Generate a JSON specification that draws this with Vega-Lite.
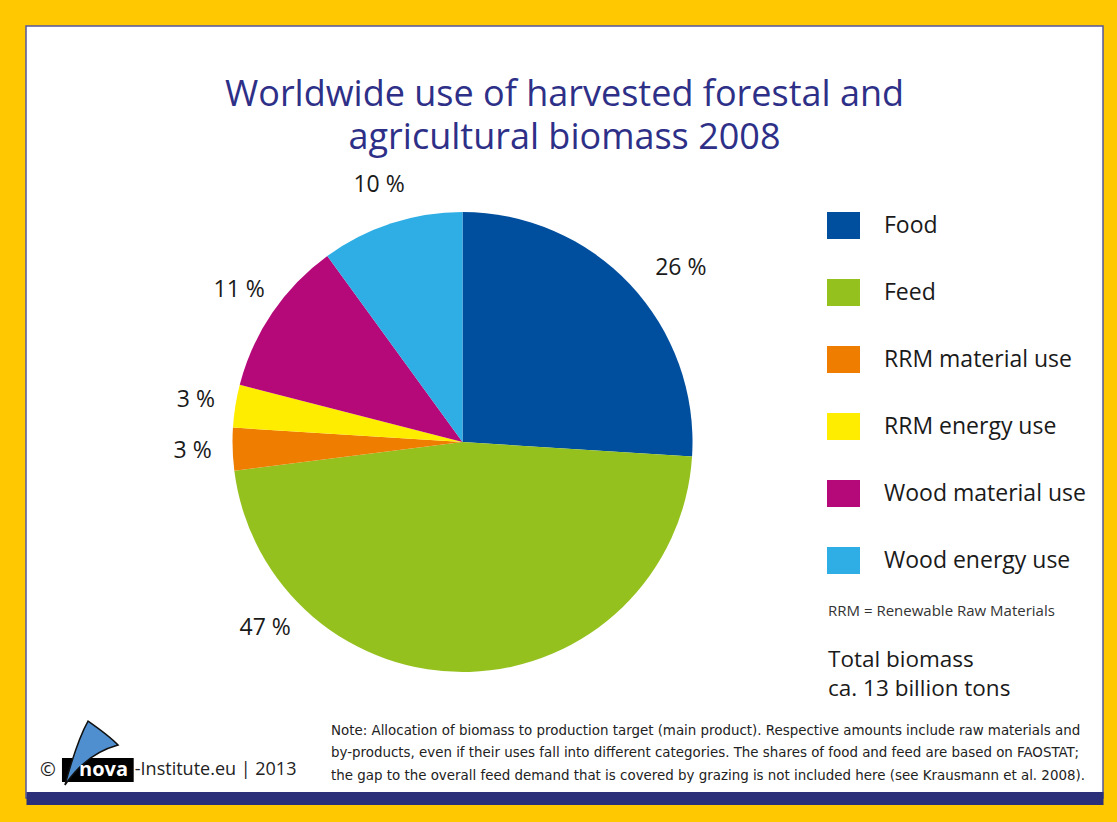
{
  "$schema": "https://vega.github.io/schema/vega-lite/v6.json",
  "width": 1077,
  "height": 772,
  "autosize": {"type": "none"},
  "padding": {"left": 26, "top": 26, "right": 14, "bottom": 24},
  "background": "#ffc800",
  "title": {
    "text": ["Worldwide use of harvested forestal and", "agricultural biomass 2008"],
    "anchor": "middle",
    "frame": "group",
    "offset": -131,
    "fontSize": 36,
    "font": "Open Sans",
    "fontWeight": "normal",
    "color": "#2e3088",
    "lineHeight": 43
  },
  "data": {
    "values": [
      {"use": "Food", "share": 26, "rank": 1, "label": "26 %"},
      {"use": "Feed", "share": 47, "rank": 2, "label": "47 %"},
      {"use": "RRM material use", "share": 3, "rank": 3, "label": "3 %"},
      {"use": "RRM energy use", "share": 3, "rank": 4, "label": "3 %"},
      {"use": "Wood material use", "share": 11, "rank": 5, "label": "11 %"},
      {"use": "Wood energy use", "share": 10, "rank": 6, "label": "10 %"}
    ]
  },
  "layer": [
    {
      "mark": {"type": "arc", "outerRadius": 230},
      "encoding": {
        "theta": {"field": "share", "type": "quantitative", "stack": true, "scale": {"domain": [0, 100]}},
        "color": {
          "field": "use",
          "type": "nominal",
          "scale": {
            "domain": ["Food", "Feed", "RRM material use", "RRM energy use", "Wood material use", "Wood energy use"],
            "range": ["#004f9f", "#95c11f", "#ef7d00", "#ffed00", "#b5097a", "#2eaee4"]
          },
          "legend": {
            "orient": "none",
            "legendX": 801,
            "legendY": 183,
            "title": null,
            "symbolType": "M-1,-0.82H1V0.82H-1Z",
            "symbolSize": 1089,
            "symbolStrokeWidth": 0,
            "symbolOpacity": 1,
            "labelFontSize": 23,
            "labelFont": "Open Sans",
            "labelColor": "#1a1a1a",
            "labelLimit": 300,
            "rowPadding": 36,
            "labelOffset": 24,
            "padding": 0
          }
        },
        "order": {"field": "rank", "type": "quantitative"},
        "x": {"datum": 40.53, "type": "quantitative", "scale": {"domain": [0, 100], "nice": false, "zero": false},
              "axis": {"title": null, "domain": true, "domainColor": "#2b2e78", "domainWidth": 13, "ticks": false, "labels": false, "grid": false}},
        "y": {"datum": 53.89, "type": "quantitative", "scale": {"domain": [0, 100], "nice": false, "zero": false, "reverse": true}, "axis": null}
      }
    },
    {
      "mark": {"type": "text", "radius": 270, "fontSize": 23, "font": "Open Sans", "color": "#1a1a1a", "align": "center", "baseline": "middle"},
      "encoding": {
        "theta": {"field": "share", "type": "quantitative", "stack": true},
        "detail": {"field": "use", "type": "nominal"},
        "order": {"field": "rank", "type": "quantitative"},
        "text": {"field": "label", "type": "nominal"},
        "opacity": {"condition": {"test": "datum.use === 'Feed' || datum.use === 'Food'", "value": 0}, "value": 1},
        "x": {"datum": 40.53, "type": "quantitative", "axis": {"title": null}},
        "y": {"datum": 53.89, "type": "quantitative", "axis": null}
      }
    },
    {
      "transform": [{"filter": "datum.use === 'Feed'"}],
      "mark": {"type": "text", "radius": 271, "thetaOffset": 1.004, "fontSize": 23, "font": "Open Sans", "color": "#1a1a1a", "align": "center", "baseline": "middle"},
      "encoding": {
        "theta": {"field": "share", "type": "quantitative", "stack": null},
        "text": {"field": "label", "type": "nominal"},
        "x": {"datum": 40.53, "type": "quantitative", "axis": {"title": null}},
        "y": {"datum": 53.89, "type": "quantitative", "axis": null}
      }
    },
    {
      "transform": [{"filter": "datum.use === 'Food'"}],
      "mark": {"type": "text", "radius": 279, "thetaOffset": -0.735, "fontSize": 23, "font": "Open Sans", "color": "#1a1a1a", "align": "center", "baseline": "middle"},
      "encoding": {
        "theta": {"field": "share", "type": "quantitative", "stack": null},
        "text": {"field": "label", "type": "nominal"},
        "x": {"datum": 40.53, "type": "quantitative", "axis": {"title": null}},
        "y": {"datum": 53.89, "type": "quantitative", "axis": null}
      }
    },
    {
      "data": {"values": [{"t": "RRM = Renewable Raw Materials"}]},
      "mark": {"type": "text", "fontSize": 15, "font": "Open Sans", "color": "#333333", "align": "left", "baseline": "middle"},
      "encoding": {
        "text": {"field": "t", "type": "nominal"},
        "x": {"datum": 74.47, "type": "quantitative", "axis": {"title": null}},
        "y": {"datum": 75.78, "type": "quantitative", "axis": null}
      }
    },
    {
      "data": {"values": [{"t": "Total biomass\nca. 13 billion tons"}]},
      "mark": {"type": "text", "fontSize": 22.5, "font": "Open Sans", "color": "#1a1a1a", "align": "left", "baseline": "middle", "lineBreak": "\n", "lineHeight": 29},
      "encoding": {
        "text": {"field": "t", "type": "nominal"},
        "x": {"datum": 74.47, "type": "quantitative", "axis": {"title": null}},
        "y": {"datum": 82.12, "type": "quantitative", "axis": null}
      }
    },
    {
      "data": {"values": [{"t": "Note: Allocation of biomass to production target (main product). Respective amounts include raw materials and\nby-products, even if their uses fall into different categories. The shares of food and feed are based on FAOSTAT;\nthe gap to the overall feed demand that is covered by grazing is not included here (see Krausmann et al. 2008)."}]},
      "mark": {"type": "text", "fontSize": 14.9, "font": "DejaVu Sans Condensed", "color": "#222222", "align": "left", "baseline": "middle", "lineBreak": "\n", "lineHeight": 22.5},
      "encoding": {
        "text": {"field": "t", "type": "nominal"},
        "x": {"datum": 28.32, "type": "quantitative", "axis": {"title": null}},
        "y": {"datum": 91.32, "type": "quantitative", "axis": null}
      }
    },
    {
      "data": {"values": [{"t": "©"}]},
      "mark": {"type": "text", "fontSize": 19, "font": "Open Sans", "color": "#222222", "align": "center", "baseline": "middle"},
      "encoding": {
        "text": {"field": "t", "type": "nominal"},
        "x": {"datum": 2.04, "type": "quantitative", "axis": {"title": null}},
        "y": {"datum": 96.37, "type": "quantitative", "axis": null}
      }
    },
    {
      "data": {"values": [{"t": "-Institute.eu | 2013"}]},
      "mark": {"type": "text", "fontSize": 18, "font": "Open Sans", "color": "#222222", "align": "left", "baseline": "middle"},
      "encoding": {
        "text": {"field": "t", "type": "nominal"},
        "x": {"datum": 10.1, "type": "quantitative", "axis": {"title": null}},
        "y": {"datum": 96.37, "type": "quantitative", "axis": null}
      }
    },
    {
      "data": {"values": [{"t": "logo box"}]},
      "mark": {"type": "rect", "color": "#000000"},
      "encoding": {
        "x": {"datum": 3.34, "type": "quantitative", "axis": {"title": null}},
        "x2": {"datum": 10.0},
        "y": {"datum": 94.82, "type": "quantitative", "axis": null},
        "y2": {"datum": 97.93}
      }
    },
    {
      "data": {"values": [{"t": "logo sail"}]},
      "mark": {"type": "point", "shape": "M-0.87,1.1C-0.65,0.3 -0.4,-0.5 -0.1,-1.03C0.3,-0.75 0.65,-0.5 0.9,-0.23C0.25,-0.05 -0.4,0.4 -0.87,1.1Z", "size": 3600, "filled": true, "fill": "#4f8fcf", "stroke": "#111111", "strokeWidth": 1.5, "opacity": 1},
      "encoding": {
        "x": {"datum": 6.04, "type": "quantitative", "axis": {"title": null}},
        "y": {"datum": 94.04, "type": "quantitative", "axis": null}
      }
    },
    {
      "data": {"values": [{"t": "nova"}]},
      "mark": {"type": "text", "fontSize": 20, "font": "Open Sans", "fontWeight": "bold", "color": "#ffffff", "align": "center", "baseline": "middle"},
      "encoding": {
        "text": {"field": "t", "type": "nominal"},
        "x": {"datum": 7.2, "type": "quantitative", "axis": {"title": null}},
        "y": {"datum": 96.37, "type": "quantitative", "axis": null}
      }
    }
  ],
  "config": {
    "view": {"fill": "white", "stroke": "#55559a", "strokeWidth": 1.5},
    "axisY": {"disable": true}
  }
}
